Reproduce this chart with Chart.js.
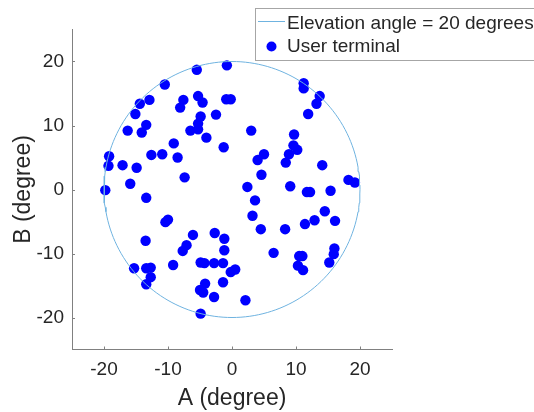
<!DOCTYPE html>
<html>
<head>
<meta charset="utf-8">
<script src="https://cdn.jsdelivr.net/npm/chart.js@4"></script>
<style>
  html, body { margin: 0; padding: 0; background: #fff; }
  #wrap { width: 534px; height: 412px; }
</style>
</head>
<body>
<div id="wrap"><canvas id="myChart" width="534" height="412"></canvas></div>
<script>
// user terminal positions (A, B) in degrees
const termA = [-0.8, -5.5, -10.5, -12.9, -14.4, -15.1, -13.4, -14.1, -16.3, -19.2, -19.3, -17.1, -14.9,
  -12.6, -10.9, -9.1, -8.5, -7.4, -15.9, -19.8, -13.4, -8.1, -7.6, -5.3, -4.6, -4.9, -5.3, -6.5, -5.3,
  -4.0, -2.5, -1.3, -0.9, -0.2,
  11.2, 11.2, 13.7, 13.2, 11.9, 3.0, 9.7, 9.6, 10.2, 8.9, 8.4, 5.0, 4.0, 4.6, 14.1, 18.2, 19.2,
  2.4, 9.1, 11.7, 12.2, 15.4,
  3.6, 3.2, 4.5, 8.3, 11.4, 12.9, 14.5, 16.1, 6.5, 10.5, 11.0, 10.3, 11.1, 16.0, 15.9, 15.2, 2.1,
  -10.4, -10.0, -13.5, -6.1, -7.1, -7.7, -15.3, -13.4, -12.7, -12.7, -13.4, -9.2,
  -4.9, -4.3, -2.8, -1.4, -2.7, -1.2, -1.2, 0.5, -0.2, -1.4, -4.2, -5.0, -4.5, -2.8, -4.9];
const termB = [19.4, 18.7, 16.4, 14.0, 13.4, 11.8, 10.1, 8.9, 9.2, 5.2, 3.7, 3.8, 3.4,
  5.4, 5.5, 7.2, 5.0, 1.9, 0.9, -0.1, -1.3, 12.8, 14.0, 14.6, 13.6, 11.4, 10.3, 9.2, 9.4,
  8.1, 11.7, 6.6, 14.1, 14.1,
  16.6, 15.8, 14.6, 13.4, 11.8, 9.2, 8.6, 6.9, 6.2, 5.5, 4.2, 5.5, 4.6, 2.3, 3.8, 1.5, 1.1,
  0.4, 0.5, -0.4, -0.4, -0.2,
  -1.7, -4.1, -6.2, -6.2, -5.4, -4.8, -3.4, -4.9, -9.9, -10.4, -10.4, -11.9, -12.6, -9.2, -10.1, -11.4, -17.3,
  -5.1, -4.7, -8.0, -7.1, -8.7, -9.6, -12.3, -12.3, -12.2, -13.7, -14.8, -11.8,
  -11.4, -11.5, -11.5, -11.5, -6.8, -7.7, -9.5, -12.5, -12.9, -14.5, -14.7, -15.7, -16.1, -16.8, -19.4];

const elevationRadius = 20; // elevation angle = 20 degrees
const tickValues = [-20, -10, 0, 10, 20];
const axisMin = -25, axisMax = 25;

const terminals = termA.map((a, i) => ({ x: a, y: termB[i] }));
const circle = [];
for (let d = 0; d <= 360; d += 2) {
  const t = d * Math.PI / 180;
  circle.push({ x: elevationRadius * Math.cos(t), y: elevationRadius * Math.sin(t) });
}

const legendItems = ["Elevation angle = 20 degrees", "User terminal"];
const circleColor = "#6fb3e0";
const dotColor = "#0000ff";
const textColor = "#262626";
const fontFam = "'Liberation Sans', Arial, sans-serif";

// MATLAB style ticks pointing inward + legend box
const extras = {
  id: "extras",
  afterDraw(chart) {
    const c = chart.ctx;
    const xs = chart.scales.x, ys = chart.scales.y;
    const area = chart.chartArea;
    c.save();
    c.strokeStyle = "#808080";
    c.lineWidth = 1;
    c.beginPath();
    tickValues.forEach(v => {
      const px = Math.round(xs.getPixelForValue(v)) + 0.5;
      c.moveTo(px, area.bottom);
      c.lineTo(px, area.bottom - 3);
      const py = Math.round(ys.getPixelForValue(v)) + 0.5;
      c.moveTo(area.left, py);
      c.lineTo(area.left + 3, py);
    });
    c.stroke();

    // legend
    const lx = 255.5, ly = 8.5, lw = 290, lh = 52;
    c.fillStyle = "#fff";
    c.fillRect(lx, ly, lw, lh);
    c.strokeStyle = "#a6a6a6";
    c.strokeRect(lx, ly, lw, lh);
    c.font = "19px " + fontFam;
    c.fillStyle = textColor;
    c.textBaseline = "middle";
    c.fillText(legendItems[0], 287, 24);
    c.fillText(legendItems[1], 287, 46.5);
    c.strokeStyle = circleColor;
    c.beginPath();
    c.moveTo(258, 21.5);
    c.lineTo(285, 21.5);
    c.stroke();
    c.fillStyle = dotColor;
    c.beginPath();
    c.arc(271.5, 46.5, 5, 0, Math.PI * 2);
    c.fill();
    c.restore();
  }
};

const ctx = document.getElementById("myChart");
new Chart(ctx, {
  type: "scatter",
  data: {
    datasets: [
      {
        label: legendItems[0],
        data: circle,
        showLine: true,
        borderColor: circleColor,
        borderWidth: 1,
        pointRadius: 0,
        fill: false
      },
      {
        label: legendItems[1],
        data: terminals,
        backgroundColor: dotColor,
        borderWidth: 0,
        pointRadius: 5.2,
        pointHoverRadius: 5.2
      }
    ]
  },
  options: {
    responsive: false,
    animation: false,
    layout: { padding: { top: 29.5, right: 142, left: 0, bottom: 0 } },
    plugins: { legend: { display: false }, tooltip: { enabled: false } },
    scales: {
      x: {
        type: "linear",
        min: axisMin,
        max: axisMax,
        afterBuildTicks: s => { s.ticks = tickValues.map(v => ({ value: v })); },
        afterFit: s => { s.height = 62.5; },
        grid: { drawOnChartArea: false, drawTicks: false },
        border: { display: true, color: "#808080" },
        ticks: { color: textColor, font: { size: 19, family: fontFam }, padding: 9, maxRotation: 0 },
        title: { display: true, text: "A (degree)", color: textColor, font: { size: 23, family: fontFam }, padding: { top: 0, bottom: 0 } }
      },
      y: {
        type: "linear",
        min: axisMin,
        max: axisMax,
        afterBuildTicks: s => { s.ticks = tickValues.map(v => ({ value: v })); },
        afterFit: s => { s.width = 72; },
        grid: { drawOnChartArea: false, drawTicks: false },
        border: { display: true, color: "#808080" },
        ticks: { color: textColor, font: { size: 19, family: fontFam }, padding: 8 },
        title: { display: true, text: "B (degree)", color: textColor, font: { size: 23, family: fontFam }, padding: { bottom: 0, top: 10 } }
      }
    }
  },
  plugins: [extras]
});
</script>
</body>
</html>
